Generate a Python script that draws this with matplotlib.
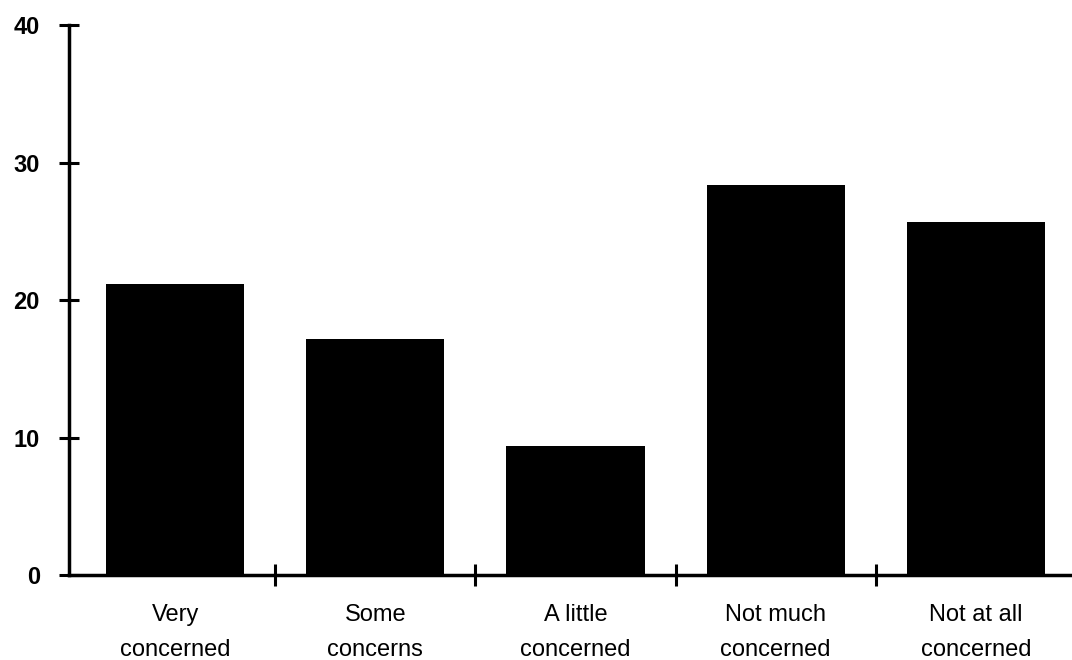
import matplotlib
matplotlib.use("Agg")
import matplotlib.pyplot as plt
from matplotlib.ticker import FixedLocator

categories = ["Very\nconcerned", "Some\nconcerns", "A little\nconcerned",
              "Not much\nconcerned", "Not at all\nconcerned"]
values = [21.2, 17.2, 9.4, 28.4, 25.7]
yticks = [0, 10, 20, 30, 40]

plt.rcParams['font.family'] = ['Liberation Sans', 'DejaVu Sans']

fig = plt.figure(figsize=(10.72, 6.6), dpi=100)
ax = fig.add_axes([0.0644, 0.1288, 0.9356, 0.8332])

x = list(range(len(categories)))
ax.bar(x, values, width=0.69, color="black", edgecolor="none")

ax.set_xlim(-0.53, 4.48)
ax.set_ylim(0, 40)

for s in ["top", "right"]:
    ax.spines[s].set_visible(False)
for s in ["left", "bottom"]:
    ax.spines[s].set_linewidth(2.5)
    ax.spines[s].set_color("black")

ax.set_yticks(yticks)
ax.set_yticklabels([str(v) for v in yticks], fontsize=17, fontweight="bold")
ax.tick_params(axis="y", direction="inout", length=14, width=2.2, pad=14)

ax.set_xticks(x)
ax.set_xticklabels(categories, fontsize=17, linespacing=1.75)
ax.tick_params(axis="x", which="major", length=0, pad=21)
ax.xaxis.set_minor_locator(FixedLocator([0.5, 1.5, 2.5, 3.5]))
ax.tick_params(axis="x", which="minor", direction="inout", length=16, width=2.2)

fig.savefig("out.png", dpi=100, facecolor="white")
